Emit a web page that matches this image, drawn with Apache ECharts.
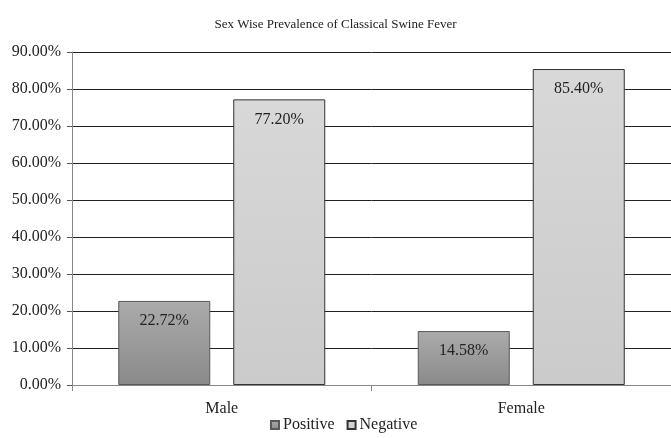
<!DOCTYPE html>
<html>
<head>
<meta charset="utf-8">
<script src="https://cdn.jsdelivr.net/npm/echarts@6/dist/echarts.min.js"></script>
<style>html,body{margin:0;padding:0;background:#fff}#c{width:671px;height:438px}</style>
</head>
<body>
<div id="c"></div>
<script>
var categories = ['Male', 'Female'];
var positive = [22.72, 14.58];
var negative = [77.20, 85.40];
var seriesNames = ['Positive', 'Negative'];
var yTicks = {min: 0, max: 90, interval: 10};

var font = 'Liberation Serif';
var chart = echarts.init(document.getElementById('c'));
function grad(a, b) {
  return new echarts.graphic.LinearGradient(0, 0, 0, 1, [{offset: 0, color: a}, {offset: 1, color: b}]);
}
var lbl = {
  show: true, position: 'insideTop', distance: 12,
  fontFamily: font, fontSize: 16, color: '#222',
  formatter: function (p) { return p.value.toFixed(2) + '%'; }
};
chart.setOption({
  animation: false,
  title: {
    text: 'Sex Wise Prevalence of Classical Swine Fever',
    left: 'center', top: 13,
    textStyle: {fontFamily: font, fontSize: 13, fontWeight: 'normal', color: '#222'}
  },
  legend: {
    data: seriesNames, bottom: 0, left: 265,
    icon: 'rect',
    itemWidth: 8, itemHeight: 8, itemGap: 12,
    textStyle: {fontFamily: font, fontSize: 16, color: '#222', padding: [0, 0, 0, -1]}
  },
  grid: {left: 72, right: -3, top: 52, bottom: 53, containLabel: false},
  xAxis: {
    type: 'category', data: categories,
    axisLine: {lineStyle: {color: '#888', width: 1}},
    axisTick: {show: true, alignWithLabel: false, length: 6, lineStyle: {color: '#888'}},
    axisLabel: {fontFamily: font, fontSize: 16, color: '#222', margin: 16}
  },
  yAxis: {
    type: 'value', min: yTicks.min, max: yTicks.max, interval: yTicks.interval,
    axisLine: {show: true, lineStyle: {color: '#888'}},
    axisTick: {show: true, length: 5, lineStyle: {color: '#555'}},
    splitLine: {lineStyle: {color: '#222', width: 1}},
    axisLabel: {fontFamily: font, fontSize: 16, color: '#222', margin: 11,
      formatter: function (v) { return v.toFixed(2) + '%'; }}
  },
  series: [
    {
      name: seriesNames[0], type: 'bar', data: positive,
      barWidth: 92, barGap: '25%',
      itemStyle: {color: grad('#ababab', '#8a8a8a'), borderColor: '#5a5a5a', borderWidth: 1},
      label: lbl
    },
    {
      name: seriesNames[1], type: 'bar', data: negative,
      barWidth: 92,
      itemStyle: {color: grad('#d8d8d8', '#cbcbcb'), borderColor: '#333', borderWidth: 1},
      label: lbl
    }
  ]
});
</script>
</body>
</html>
